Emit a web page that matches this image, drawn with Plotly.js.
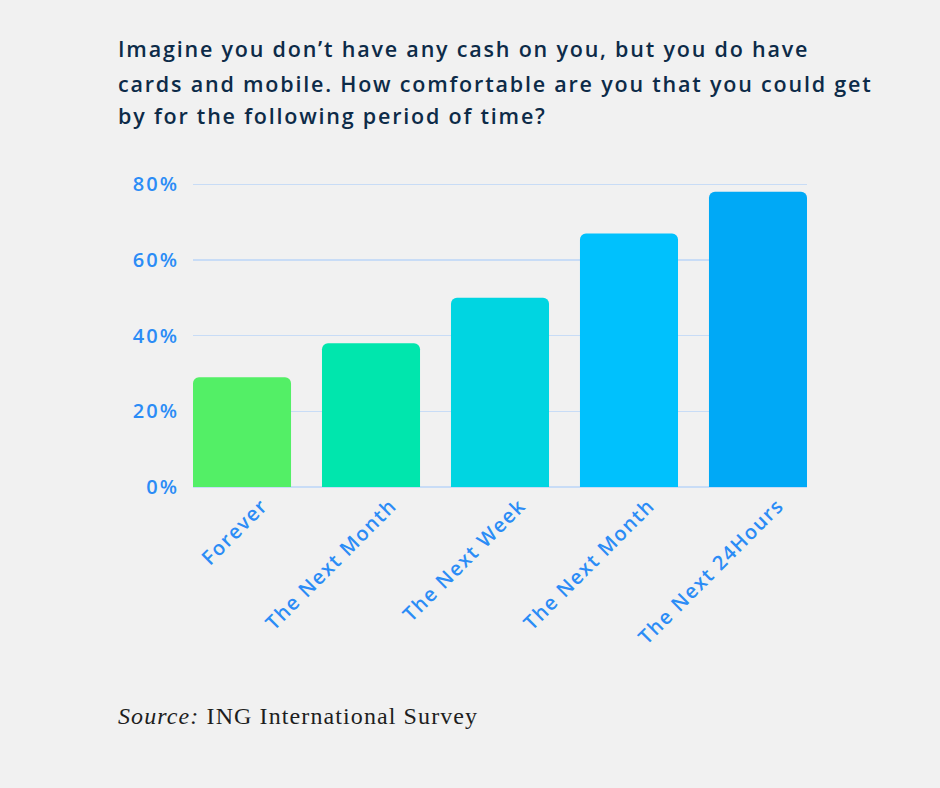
<!DOCTYPE html>
<html>
<head>
<meta charset="utf-8">
<script src="https://cdn.plot.ly/plotly-3.0.1.min.js"></script>
<style>
  html, body { margin: 0; padding: 0; background: #f1f1f1; }
  #chart { width: 940px; height: 788px; }
  .annotation[data-index="0"] .annotation-text,
  .annotation[data-index="1"] .annotation-text,
  .annotation[data-index="2"] .annotation-text { letter-spacing: 1.8px; }
  .annotation[data-index="3"] .annotation-text { letter-spacing: 1.1px; }
  .ytick text { letter-spacing: 2px; }
  .xtick text { letter-spacing: 1.4px; }
</style>
</head>
<body>
<div id="chart"></div>
<script>
// Data
const categories = ["Forever", "The Next Month", "The Next Week", "The Next Month", "The Next 24Hours"];
const values = [29, 38, 50, 67, 78];
const barColors = ["#53ef66", "#00e6ad", "#00d5e1", "#00c1fd", "#00a9f6"];
const yTickValues = [0, 20, 40, 60, 80];
const titleLines = [
  "Imagine you don\u2019t have any cash on you, but you do have",
  "cards and mobile. How comfortable are you that you could get",
  "by for the following period of time?"
];
const sourceLabel = "<i>Source:</i> ING International Survey";

const positions = categories.map((c, i) => i);

const trace = {
  type: "bar",
  x: positions,
  y: values,
  width: 0.76,
  marker: { color: barColors, cornerradius: 6, line: { width: 0 } },
  hoverinfo: "skip"
};

const titleFont = { family: "Open Sans", size: 21.5, color: "#0d2b48", weight: 600 };
const lineY = [1.439, 1.322, 1.217];
const annotations = titleLines.map((t, i) => ({
  text: t, xref: "paper", yref: "paper", x: -0.125, y: lineY[i],
  xanchor: "left", yanchor: "middle", align: "left", showarrow: false, font: titleFont
}));
annotations.push({
  text: sourceLabel, xref: "paper", yref: "paper", x: -0.125, y: -0.752,
  xanchor: "left", yanchor: "middle", align: "left", showarrow: false,
  font: { family: "Liberation Serif", size: 24, color: "#1e1e1e" }
});

const layout = {
  width: 940, height: 788,
  paper_bgcolor: "#f1f1f1", plot_bgcolor: "#f1f1f1",
  margin: { l: 193, r: 133, t: 182, b: 301 },
  showlegend: false,
  xaxis: {
    range: [-0.38, 4.38],
    tickmode: "array", tickvals: positions, ticktext: categories,
    tickangle: -45,
    tickfont: { family: "Open Sans", size: 20, color: "#2b8cf6", weight: 600 },
    showgrid: false, zeroline: false, showline: false, ticks: "",
    ticklabelshift: 20, ticklabelstandoff: 2,
    fixedrange: true
  },
  yaxis: {
    range: [0, 80.6],
    tickmode: "array", tickvals: yTickValues,
    ticktext: yTickValues.map(v => v + "%"),
    tickfont: { family: "Open Sans", size: 20, color: "#2b8cf6", weight: 600 },
    showgrid: true, gridcolor: "#c8dcf6", gridwidth: 1.5,
    zeroline: true, zerolinecolor: "#c8dcf6", zerolinewidth: 1.5,
    showline: false, ticks: "", ticklabelstandoff: 13,
    fixedrange: true
  },
  annotations: annotations
};

Plotly.newPlot("chart", [trace], layout, { displayModeBar: false, staticPlot: true });
</script>
</body>
</html>
